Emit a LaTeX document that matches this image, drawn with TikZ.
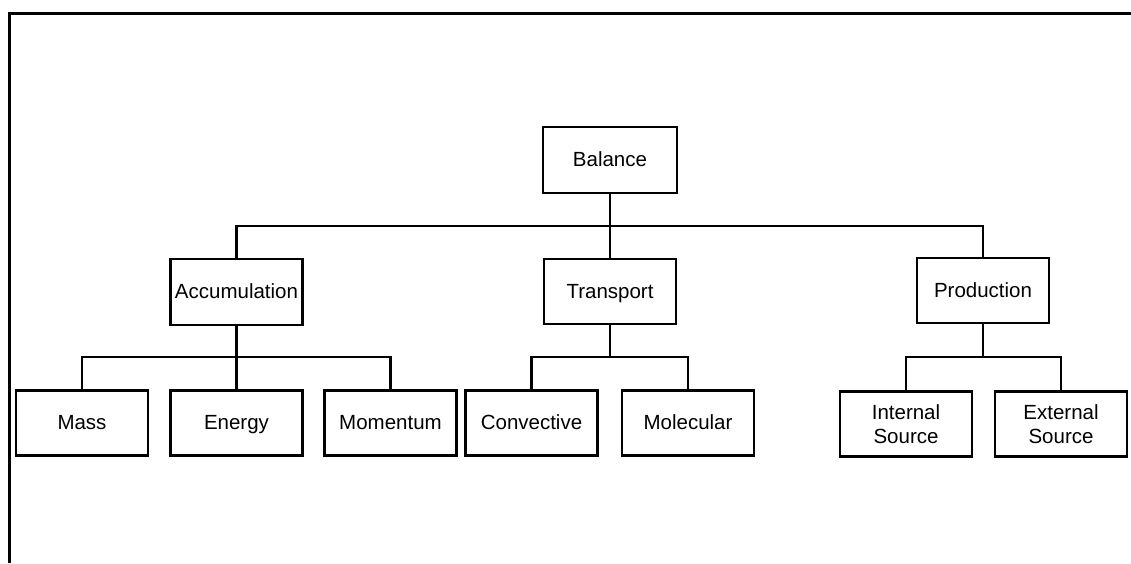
\documentclass[tikz,border=0pt]{standalone}
\usepackage{fontspec}
\setmainfont{Liberation Sans}
\begin{document}
\begin{tikzpicture}[x=1pt,y=-1pt,
  every node/.style={font=\fontsize{20.5}{24}\selectfont},
  box/.style={draw, line width=2.3pt, minimum width=132pt, minimum height=65pt, inner sep=0pt, align=center},
  oneline/.style={text height=13pt, text depth=0pt},
  link/.style={line width=2.3pt},
  frame/.style={line width=3pt}]
\useasboundingbox (0,0) rectangle (1131,563);
% outer frame (top and left edges only)
\coordinate (fa) at (9,563);
\coordinate (fb) at (9,13);
\coordinate (fc) at (1131,13);
\draw[frame] (fa) -- (fb) -- (fc);

% root
\node[box, oneline, minimum width=134pt, minimum height=66pt] (bal) at (610,160) {Balance};

% second level
\node[box, oneline, minimum height=66pt] (acc) at (236.5,292) {Accumulation};
\node[box, oneline] (tra) at (610,291.5) {Transport};
\node[box, oneline] (pro) at (983,290.5) {Production};

% third level
\node[box, oneline] (mass) at (82,423) {Mass};
\node[box, oneline] (ene) at (236.5,423) {Energy};
\node[box, oneline] (mom) at (390.5,423) {Momentum};
\node[box, oneline] (con) at (531.5,423) {Convective};
\node[box, oneline] (mol) at (688,423) {Molecular};
\node[box] (int) at (906,424) {Internal\\Source};
\node[box] (ext) at (1061,424) {External\\Source};

% bus levels
\coordinate (bus1) at (0,226);
\coordinate (bus2) at (0,357);

% root to second level
\draw[link] (bal.south) -- (tra.north);
\draw[link] (acc.north) -- (acc.north |- bus1) -- (pro.north |- bus1) -- (pro.north);

% accumulation branch
\draw[link] (acc.south) -- (ene.north);
\draw[link] (mass.north) -- (mass.north |- bus2) -- (mom.north |- bus2) -- (mom.north);

% transport branch
\draw[link] (tra.south) -- (tra.south |- bus2);
\draw[link] (con.north) -- (con.north |- bus2) -- (mol.north |- bus2) -- (mol.north);

% production branch
\draw[link] (pro.south) -- (pro.south |- bus2);
\draw[link] (int.north) -- (int.north |- bus2) -- (ext.north |- bus2) -- (ext.north);
\end{tikzpicture}
\end{document}
